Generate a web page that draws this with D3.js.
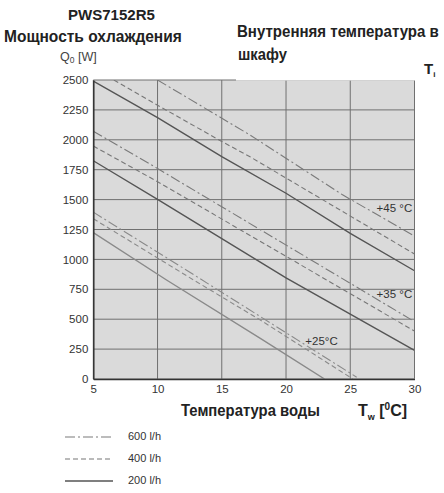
<!DOCTYPE html>
<html>
<head>
<meta charset="utf-8">
<script src="https://cdn.jsdelivr.net/npm/d3@7"></script>
<style>
  html, body { margin: 0; padding: 0; background: #fff; }
  svg { display: block; }
</style>
</head>
<body>
<svg id="chart" width="444" height="493"></svg>
<script>
// ---------------- data ----------------
const xTicks = [5, 10, 15, 20, 25, 30];
const yTicks = [0, 250, 500, 750, 1000, 1250, 1500, 1750, 2000, 2250, 2500];
const flowLabels = ["600 l/h", "400 l/h", "200 l/h"];
const tempLabels = ["+45 °C", "+35 °C", "+25°C"];

// water temperature (°C) and cooling power Q0 (W) per curve
const tw45_600 = [10, 17.2, 24.4, 30];
const q45_600  = [2500, 2040, 1540, 1195];
const tw45_400 = [6.6, 10, 15, 17.2, 30];
const q45_400  = [2500, 2289, 1986, 1858, 1045];
const tw45_200 = [5, 10, 15, 20, 25, 30];
const q45_200  = [2490, 2185, 1860, 1553, 1218, 905];

const tw35_600 = [5, 10, 30];
const q35_600  = [2072, 1760, 480];
const tw35_400 = [5, 10, 30];
const q35_400  = [1948, 1650, 401];
const tw35_200 = [5, 10, 20, 30];
const q35_200  = [1825, 1502, 845, 240];

const tw25_600 = [5, 13, 25.5];
const q25_600  = [1395, 860, 15];
const tw25_400 = [5, 12.8, 18, 25.2];
const q25_400  = [1340, 828, 493, 0];
const tw25_200 = [5, 10.7, 18, 23];
const q25_200  = [1225, 828, 340, 0];

// ---------------- drawing ----------------
const svg = d3.select("#chart");
const X0 = 93.3, X1 = 414.5, Y0 = 379, Y1 = 80;
const x = d3.scaleLinear().domain([5, 30]).range([X0, X1]);
const y = d3.scaleLinear().domain([0, 2500]).range([Y0, Y1]);

const styles = {
  "600": { dash: "10,3,2,3", color: "#7a7a7a", width: 1.1 },
  "400": { dash: "5,3", color: "#777", width: 1.1 },
  "200": { dash: null, color: "#555", width: 1.4 }
};

svg.append("defs").append("clipPath").attr("id", "plotclip")
  .append("rect").attr("x", X0).attr("y", Y1).attr("width", X1 - X0).attr("height", Y0 - Y1);

// plot background
svg.append("rect").attr("x", X0).attr("y", Y1).attr("width", X1 - X0).attr("height", Y0 - Y1)
  .attr("fill", "#dadada");

// grid
const grid = svg.append("g");
grid.selectAll("line.v").data(xTicks).enter().append("line")
  .attr("x1", d => x(d)).attr("x2", d => x(d)).attr("y1", Y1).attr("y2", Y0)
  .attr("stroke", "#707070").attr("stroke-width", 1);
grid.selectAll("line.h").data(yTicks).enter().append("line")
  .attr("x1", X0).attr("x2", X1).attr("y1", d => y(d)).attr("y2", d => y(d))
  .attr("stroke", "#707070").attr("stroke-width", 1);

// curves
const curves = [
  { tw: tw45_600, q: q45_600, f: "600", light: false },
  { tw: tw45_400, q: q45_400, f: "400", light: false },
  { tw: tw45_200, q: q45_200, f: "200", light: false },
  { tw: tw35_600, q: q35_600, f: "600", light: false },
  { tw: tw35_400, q: q35_400, f: "400", light: false },
  { tw: tw35_200, q: q35_200, f: "200", light: false },
  { tw: tw25_600, q: q25_600, f: "600", light: true },
  { tw: tw25_400, q: q25_400, f: "400", light: true },
  { tw: tw25_200, q: q25_200, f: "200", light: true }
];
const line = d3.line().x(d => x(d[0])).y(d => y(d[1]));
const cg = svg.append("g").attr("clip-path", "url(#plotclip)");
curves.forEach(c => {
  const st = styles[c.f];
  cg.append("path")
    .datum(c.tw.map((t, i) => [t, c.q[i]]))
    .attr("d", line)
    .attr("fill", "none")
    .attr("stroke", c.light ? "#8a8a8a" : st.color)
    .attr("stroke-width", st.width)
    .attr("stroke-dasharray", st.dash);
});

// axes
const yAxis = d3.axisLeft(y).tickValues(yTicks).tickSize(0).tickPadding(5).tickFormat(d3.format("d"));
const yg = svg.append("g").attr("transform", `translate(${X0},0)`).call(yAxis);
const xAxis = d3.axisBottom(x).tickValues(xTicks).tickSize(0).tickPadding(6).tickFormat(d3.format("d"));
const xg = svg.append("g").attr("transform", `translate(0,${Y0})`).call(xAxis);
[yg, xg].forEach(g => {
  g.select(".domain").attr("stroke", "#333").attr("stroke-width", 1.5);
  g.selectAll("text").attr("font-family", "Liberation Sans, Arial, sans-serif")
    .attr("font-size", 11.5).attr("fill", "#333");
});

// right edge
svg.append("line").attr("x1", X1).attr("x2", X1).attr("y1", Y1).attr("y2", Y0)
  .attr("stroke", "#707070");

// temperature labels
const tl = [
  { t: tempLabels[0], tw: 27.05, q: 1421 },
  { t: tempLabels[1], tw: 27.05, q: 702 },
  { t: tempLabels[2], tw: 21.5, q: 309 }
];
svg.selectAll("text.tl").data(tl).enter().append("text")
  .attr("x", d => x(d.tw)).attr("y", d => y(d.q))
  .attr("font-family", "Liberation Sans, Arial, sans-serif").attr("font-size", 11.5)
  .attr("fill", "#333").attr("dominant-baseline", "middle")
  .text(d => d.t);

// white box behind right heading (covers top edge)
svg.append("rect").attr("x", 236).attr("y", 0).attr("width", 208).attr("height", 80.5).attr("fill", "#fff");

// condensed bold titles: scale horizontally to the measured width
const boldNarrow = "'Liberation Sans Narrow', 'Liberation Sans', Arial, sans-serif";
function narrowText(str, px, py, target, size, family) {
  const g = svg.append("g").attr("transform", `translate(${px},${py})`);
  const t = g.append("text").attr("x", 0).attr("y", 0)
    .attr("font-family", family || boldNarrow).attr("font-weight", "bold")
    .attr("font-size", size).attr("fill", "#222").text(str);
  const w = t.node().getComputedTextLength();
  g.attr("transform", `translate(${px},${py}) scale(${target / w},1)`);
  return t;
}
narrowText("PWS7152R5", 68, 20, 87, 14, "Liberation Sans, Arial, sans-serif");
narrowText("Мощность охлаждения", 4, 42, 178, 16);
narrowText("Внутренняя температура в", 237, 37, 202, 16);
narrowText("шкафу", 238, 60, 49, 16);
narrowText("Температура воды", 181, 416, 139, 16);

// Q0 [W]
const q0 = svg.append("text").attr("x", 60).attr("y", 61)
  .attr("font-family", "Liberation Sans, Arial, sans-serif").attr("font-size", 12.5).attr("fill", "#444");
q0.append("tspan").text("Q");
q0.append("tspan").attr("font-size", 8.5).attr("dy", 2).text("0");
q0.append("tspan").attr("dy", -2).text(" [W]");

// T_i
const ti = svg.append("text").attr("x", 424).attr("y", 74)
  .attr("font-family", boldNarrow).attr("font-weight", "bold").attr("font-size", 15).attr("fill", "#222");
ti.append("tspan").text("T");
ti.append("tspan").attr("font-size", 8).attr("dy", 3).text("i");

// Tw [°C]
const tw = svg.append("text").attr("x", 358).attr("y", 416)
  .attr("font-family", boldNarrow).attr("font-weight", "bold").attr("font-size", 16).attr("fill", "#222");
tw.append("tspan").text("T");
tw.append("tspan").attr("font-size", 9).attr("dy", 4).text("w");
tw.append("tspan").attr("dy", -4).text(" [");
tw.append("tspan").attr("font-size", 10).attr("dy", -6).text("0");
tw.append("tspan").attr("dy", 6).text("C]");

// legend
const legY = [437, 459, 481];
const legKeys = ["600", "400", "200"];
const lg = svg.append("g");
legKeys.forEach((k, i) => {
  const st = styles[k];
  lg.append("line").attr("x1", 65).attr("x2", 113).attr("y1", legY[i]).attr("y2", legY[i])
    .attr("stroke", st.color).attr("stroke-width", st.width).attr("stroke-dasharray", st.dash);
  lg.append("text").attr("x", 128).attr("y", legY[i]).attr("dominant-baseline", "middle")
    .attr("font-family", "Liberation Sans, Arial, sans-serif").attr("font-size", 11).attr("fill", "#333")
    .text(flowLabels[i]);
});
</script>
</body>
</html>
